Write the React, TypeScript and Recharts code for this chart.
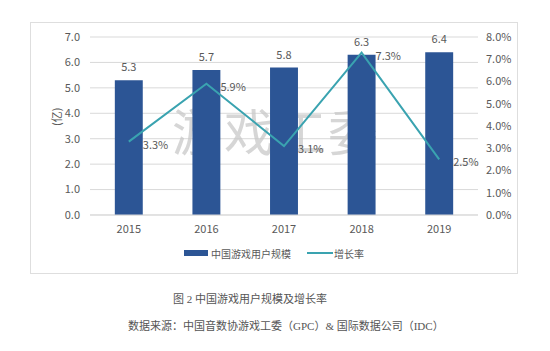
import React from "react";
import {
  ComposedChart,
  Bar,
  Line,
  XAxis,
  YAxis,
  CartesianGrid,
  Legend,
  LabelList,
} from "recharts";

const years = ["2015", "2016", "2017", "2018", "2019"];
const users = [5.3, 5.7, 5.8, 6.3, 6.4];
const growth = [3.3, 5.9, 3.1, 7.3, 2.5];
const leftTicks = [0, 1, 2, 3, 4, 5, 6, 7];
const rightTicks = [0, 1, 2, 3, 4, 5, 6, 7, 8];

const data = years.map((year, i) => ({
  year,
  users: users[i],
  growth: growth[i],
}));

const BAR = "#2c5595";
const LINE = "#3aa3b0";
const TEXT = "#595959";
const FONT = "'Noto Sans CJK SC', 'Open Sans', sans-serif";

function ChartLegend() {
  return (
    <div
      style={{
        display: "flex",
        justifyContent: "center",
        alignItems: "center",
        fontSize: 10,
        color: TEXT,
        fontFamily: FONT,
        height: 18,
      }}
    >
      <span style={{ width: 24, height: 6, background: BAR, marginRight: 3 }} />
      <span>中国游戏用户规模</span>
      <span
        style={{ width: 26, height: 2, background: LINE, marginLeft: 16, marginRight: 1 }}
      />
      <span>增长率</span>
    </div>
  );
}

function GrowthLabel(props: any) {
  const { x, y, value } = props;
  return (
    <text x={x + 14} y={y + 4} fontSize={11} fill={TEXT} dominantBaseline="middle">
      {Number(value).toFixed(1) + "%"}
    </text>
  );
}

export default function App() {
  return (
    <div
      style={{
        position: "absolute",
        left: 0,
        top: 0,
        width: 550,
        height: 351,
        background: "#fff",
        fontFamily: FONT,
      }}
    >
      <div
        style={{
          position: "absolute",
          left: 30,
          top: 22,
          width: 486,
          height: 250,
          border: "1px solid #dedede",
        }}
      >
        <ComposedChart
          width={486}
          height={250}
          data={data}
          margin={{ top: 14, right: 0, left: 0, bottom: 11 }}
          barCategoryGap="68%"
        >
          <CartesianGrid yAxisId="left" vertical={false} stroke="#d9d9d9" />
          <XAxis
            dataKey="year"
            height={29}
            tickLine={false}
            axisLine={{ stroke: "#d9d9d9" }}
            tick={{ fontSize: 11, fill: TEXT }}
            tickMargin={4}
          />
          <YAxis
            yAxisId="left"
            width={59}
            domain={[0, 7]}
            ticks={leftTicks}
            tickFormatter={(v: number) => v.toFixed(1)}
            tickLine={false}
            axisLine={false}
            tickMargin={4}
            tick={{ fontSize: 11, fill: TEXT }}
            label={{
              value: "(亿)",
              angle: -90,
              position: "insideLeft",
              offset: 26,
              style: { fontSize: 11, fill: TEXT },
            }}
          />
          <YAxis
            yAxisId="right"
            orientation="right"
            width={39}
            domain={[0, 8]}
            ticks={rightTicks}
            tickFormatter={(v: number) => v.toFixed(1) + "%"}
            tickLine={false}
            axisLine={false}
            tickMargin={2}
            tick={{ fontSize: 11, fill: TEXT, textAnchor: "start" }}
          />
          <Legend verticalAlign="bottom" content={() => <ChartLegend />} />
          <Bar yAxisId="left" dataKey="users" fill={BAR} isAnimationActive={false}>
            <LabelList
              dataKey="users"
              position="top"
              offset={9}
              formatter={(v: number) => v.toFixed(1)}
              style={{ fontSize: 11, fill: TEXT }}
            />
          </Bar>
          <Line
            yAxisId="right"
            dataKey="growth"
            stroke={LINE}
            strokeWidth={2}
            dot={false}
            type="linear"
            isAnimationActive={false}
          >
            <LabelList dataKey="growth" content={GrowthLabel} />
          </Line>
          <text
            x={245}
            y={114}
            textAnchor="middle"
            dominantBaseline="middle"
            fontSize={50}
            fill="rgba(200,200,200,0.75)"
            style={{ letterSpacing: 2 }}
          >
            游戏工委
          </text>
        </ComposedChart>
      </div>
      <div
        style={{
          position: "absolute",
          left: 0,
          width: 500,
          top: 290,
          textAlign: "center",
          fontSize: 11,
          color: "#555",
          fontFamily: "'Liberation Serif', 'Noto Sans CJK SC', serif",
        }}
      >
        图 2 中国游戏用户规模及增长率
      </div>
      <div
        style={{
          position: "absolute",
          left: 128,
          top: 317,
          fontSize: 11,
          color: "#555",
          whiteSpace: "nowrap",
          fontFamily: "'Liberation Serif', 'Noto Sans CJK SC', serif",
        }}
      >
        数据来源：中国音数协游戏工委（GPC）&amp; 国际数据公司（IDC）
      </div>
    </div>
  );
}
